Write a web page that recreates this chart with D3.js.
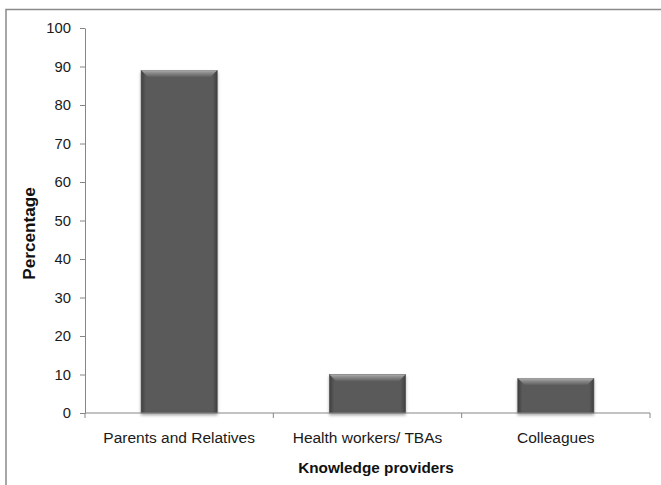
<!DOCTYPE html>
<html>
<head>
<meta charset="utf-8">
<script src="https://cdn.jsdelivr.net/npm/d3@7"></script>
<style>
  html, body { margin: 0; padding: 0; background: #fff; }
  svg { display: block; font-family: "Liberation Sans", Arial, sans-serif; }
</style>
</head>
<body>
<svg id="chart" width="661" height="485"></svg>
<script>
// Knowledge providers and their share (%)
const categories = ["Parents and Relatives", "Health workers/ TBAs", "Colleagues"];
const percentages = [89, 10, 9];
const yTicks = [0, 10, 20, 30, 40, 50, 60, 70, 80, 90, 100];
const xTitle = "Knowledge providers";
const yTitle = "Percentage";

const svg = d3.select("#chart");
const W = 661, H = 485;
const plot = { left: 85, right: 650, top: 28, bottom: 413 };

const axisColor = "#868686";

// Outer chart frame (continues past the right and bottom edges)
svg.append("rect")
  .attr("x", 6).attr("y", 9.5)
  .attr("width", W + 20).attr("height", H + 20)
  .attr("fill", "none")
  .attr("stroke", "#8a8a8a")
  .attr("stroke-width", 1.5);

const defs = svg.append("defs");

// Horizontal shading across each bar: darker rims
const sideGrad = defs.append("linearGradient").attr("id", "barSide")
  .attr("x1", "0").attr("x2", "1").attr("y1", "0").attr("y2", "0");
[["0%", "#3f3f3f"], ["6%", "#5a5a5a"], ["94%", "#5a5a5a"], ["100%", "#3f3f3f"]]
  .forEach(([o, c]) => sideGrad.append("stop").attr("offset", o).attr("stop-color", c));

// Top bevel highlight
const topGrad = defs.append("linearGradient").attr("id", "barTop")
  .attr("x1", "0").attr("x2", "0").attr("y1", "0").attr("y2", "1");
[["0%", "#b0b0b0"], ["35%", "#8c8c8c"], ["100%", "#5c5c5c"]]
  .forEach(([o, c]) => topGrad.append("stop").attr("offset", o).attr("stop-color", c));

// Soft shadow under the bars
const shadow = defs.append("filter").attr("id", "barShadow")
  .attr("x", "-20%").attr("y", "-20%").attr("width", "140%").attr("height", "140%");
shadow.append("feDropShadow")
  .attr("dx", 0).attr("dy", 2).attr("stdDeviation", 1.8)
  .attr("flood-color", "#000").attr("flood-opacity", 0.35);

// Scales
const x = d3.scaleBand()
  .domain(categories)
  .range([plot.left, plot.right])
  .paddingInner(0.596)
  .paddingOuter(0.298);

const y = d3.scaleLinear()
  .domain([0, 100])
  .range([plot.bottom, plot.top]);

// Bars
const bars = svg.append("g").selectAll("g.bar")
  .data(categories.map((c, i) => ({ c, v: percentages[i] })))
  .join("g").attr("class", "bar");

bars.append("rect")
  .attr("x", d => x(d.c))
  .attr("y", d => y(d.v))
  .attr("width", x.bandwidth())
  .attr("height", d => y(0) - y(d.v))
  .attr("fill", "url(#barSide)")
  .attr("stroke", "#4a4a4a")
  .attr("stroke-width", 0.6)
  .attr("filter", "url(#barShadow)");

const bevel = 7;
bars.append("path")
  .attr("d", d => {
    const x0 = x(d.c), x1 = x0 + x.bandwidth(), y0 = y(d.v);
    return `M${x0},${y0}L${x1},${y0}L${x1 - bevel},${y0 + bevel}L${x0 + bevel},${y0 + bevel}Z`;
  })
  .attr("fill", "url(#barTop)");

// Y axis
const yAxis = svg.append("g")
  .attr("transform", `translate(${plot.left},0)`)
  .call(d3.axisLeft(y).tickValues(yTicks).tickSize(5).tickPadding(9).tickSizeOuter(0));
yAxis.select(".domain").attr("stroke", axisColor);
yAxis.selectAll(".tick line").attr("stroke", axisColor);
yAxis.selectAll(".tick text")
  .attr("fill", "#1a1a1a")
  .style("font-size", "14.8px")
  .style("font-family", "'Liberation Sans', Arial, sans-serif");

// X axis: baseline, boundary ticks between categories, centred labels
const xAxis = svg.append("g");
xAxis.append("line")
  .attr("x1", plot.left).attr("x2", plot.right)
  .attr("y1", y(0)).attr("y2", y(0))
  .attr("stroke", axisColor);

const bounds = categories.map(c => x(c) - x.step() * x.paddingInner() / 2);
bounds.push(plot.right);
xAxis.selectAll("line.btick")
  .data(bounds)
  .join("line").attr("class", "btick")
  .attr("x1", d => d).attr("x2", d => d)
  .attr("y1", y(0)).attr("y2", y(0) + 5)
  .attr("stroke", axisColor);

xAxis.selectAll("text.cat")
  .data(categories)
  .join("text").attr("class", "cat")
  .attr("x", d => x(d) + x.bandwidth() / 2)
  .attr("y", 443)
  .attr("text-anchor", "middle")
  .attr("fill", "#1a1a1a")
  .style("font-size", "15.5px")
  .text(d => d);

// Axis titles
svg.append("text")
  .attr("x", 376).attr("y", 473)
  .attr("text-anchor", "middle")
  .attr("fill", "#111")
  .style("font-size", "15.3px")
  .style("font-weight", "bold")
  .text(xTitle);

svg.append("text")
  .attr("transform", "translate(34.5,233.5) rotate(-90)")
  .attr("text-anchor", "middle")
  .attr("fill", "#111")
  .style("font-size", "17.2px")
  .style("font-weight", "bold")
  .text(yTitle);
</script>
</body>
</html>
